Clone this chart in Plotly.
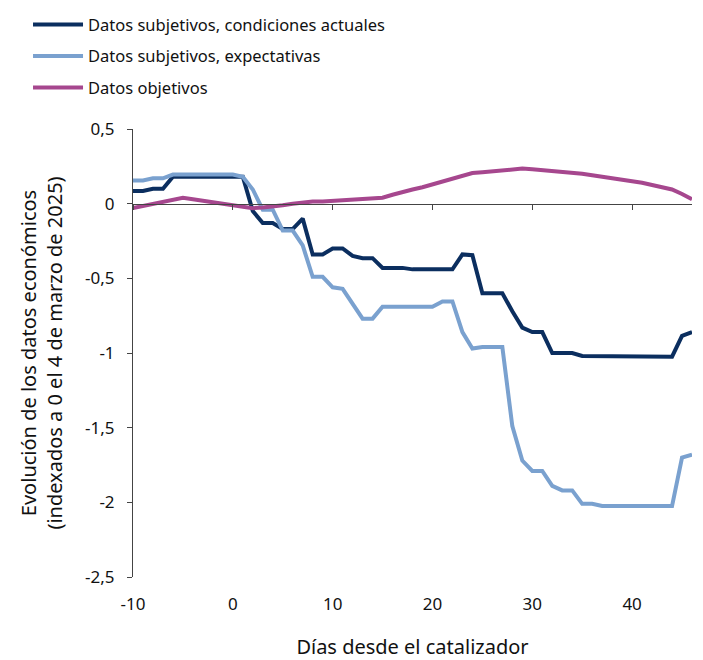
import plotly.graph_objects as go

days = list(range(-10, 47))

condiciones = [0.085, 0.085, 0.10, 0.10, 0.18, 0.18, 0.18, 0.18, 0.18, 0.18, 0.18,
               0.18, -0.05, -0.13, -0.13, -0.17, -0.17, -0.10, -0.34, -0.34, -0.30,
               -0.30, -0.35, -0.365, -0.365, -0.43, -0.43, -0.43, -0.44, -0.44, -0.44,
               -0.44, -0.44, -0.34, -0.345, -0.60, -0.60, -0.60, -0.72, -0.83, -0.86,
               -0.86, -1.0, -1.0, -1.0, -1.02, -1.02, -1.025, -1.025, -1.025, -1.025,
               -1.025, -1.025, -1.025, -1.025, -0.885, -0.86]

expectativas = [0.155, 0.155, 0.17, 0.17, 0.195, 0.195, 0.195, 0.195, 0.195, 0.195, 0.195,
                0.18, 0.095, -0.04, -0.04, -0.18, -0.18, -0.28, -0.49, -0.49, -0.56,
                -0.57, -0.67, -0.77, -0.77, -0.69, -0.69, -0.69, -0.69, -0.69, -0.69,
                -0.655, -0.655, -0.86, -0.97, -0.96, -0.96, -0.96, -1.49, -1.72, -1.79,
                -1.79, -1.89, -1.92, -1.92, -2.01, -2.01, -2.025, -2.025, -2.025, -2.025,
                -2.025, -2.025, -2.025, -2.025, -1.70, -1.68]

objetivos = [-0.03, -0.015, 0.0, 0.015, 0.03, 0.04, 0.03, 0.02, 0.01, 0.0, -0.01,
             -0.02, -0.03, -0.025, -0.02, -0.01, 0.0, 0.01, 0.015, 0.015, 0.02,
             0.02, 0.025, 0.03, 0.035, 0.04, 0.06, 0.08, 0.095, 0.11, 0.13,
             0.15, 0.17, 0.19, 0.205, 0.21, 0.215, 0.22, 0.23, 0.235, 0.23,
             0.225, 0.22, 0.215, 0.21, 0.2, 0.19, 0.18, 0.17, 0.16, 0.155,
             0.14, 0.125, 0.11, 0.095, 0.065, 0.03]

series_names = ["Datos subjetivos, condiciones actuales",
                "Datos subjetivos, expectativas",
                "Datos objetivos"]
colors = ["#0b2e5f", "#7aa1cf", "#a6478e"]

y_tickvals = [0.5, 0, -0.5, -1, -1.5, -2, -2.5]
y_ticktext = ["0,5", "0", "-0,5", "-1", "-1,5", "-2", "-2,5"]
x_tickvals = [-10, 0, 10, 20, 30, 40]
x_ticktext = ["-10", "0", "10", "20", "30", "40"]

FONT = "Noto Sans"
fig = go.Figure()
for name, vals, col, grp in zip(series_names, [condiciones, expectativas, objetivos], colors, ["a", "b", "c"]):
    fig.add_trace(go.Scatter(x=days, y=vals, mode="lines", name=name,
                             line=dict(color=col, width=4), legendgroup=grp))

# helper trace for the axis line drawn at y = 0
fig.add_trace(go.Scatter(x=days, y=objetivos, mode="lines", xaxis="x2", showlegend=False,
                         line=dict(width=0), opacity=0, hoverinfo="skip"))

fig.update_layout(
    template="none",
    width=703, height=660,
    margin=dict(l=133, r=11, t=129, b=83, autoexpand=False),
    plot_bgcolor="white", paper_bgcolor="white",
    font=dict(family=FONT, size=17, color="#111111"),
    showlegend=True,
    legend=dict(x=-0.1878, y=1.2717, xanchor="left", yanchor="top", tracegroupgap=7,
                font=dict(size=16.5), itemwidth=50, bgcolor="rgba(0,0,0,0)"),
    xaxis=dict(range=[-10, 46], tickvals=x_tickvals, ticktext=x_ticktext,
               showline=False, ticks="", showgrid=False, zeroline=False,
               automargin=False, ticklabelstandoff=15,
               title=dict(text="Días desde el catalizador", standoff=36)),
    xaxis2=dict(range=[-10, 46], overlaying="x", anchor="free", position=5/6,
                showline=True, linecolor="#444444", linewidth=1, ticks="outside",
                ticklen=5, tickcolor="#444444", tickvals=x_tickvals, showticklabels=False,
                showgrid=False, zeroline=False, side="bottom", automargin=False),
    yaxis=dict(range=[-2.5, 0.5], tickvals=y_tickvals, ticktext=y_ticktext,
               showline=True, linecolor="#444444", linewidth=1, ticks="outside",
               ticklen=5, tickcolor="#444444", showgrid=False, zeroline=False,
               automargin=False, ticklabelstandoff=9,
               title=dict(text="Evolución de los datos económicos<br>(indexados a 0 el 4 de marzo de 2025)",
                          standoff=17)),
)

fig.write_html("out.html", config={"displayModeBar": False},
               post_script="document.body.style.margin='0';")
